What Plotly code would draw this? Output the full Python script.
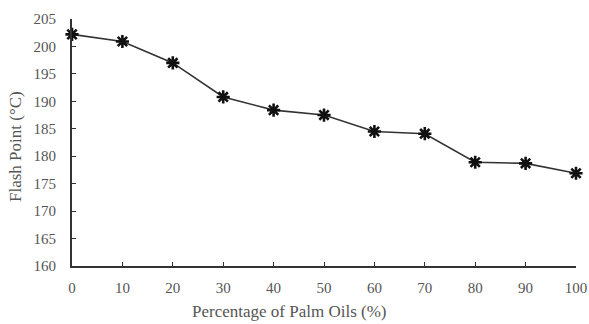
import plotly.graph_objects as go

palm_oil_pct = [0, 10, 20, 30, 40, 50, 60, 70, 80, 90, 100]
flash_point = [202.2, 200.9, 197.0, 190.8, 188.4, 187.5, 184.5, 184.1, 178.9, 178.7, 176.9]
x_ticks = [0, 10, 20, 30, 40, 50, 60, 70, 80, 90, 100]
y_ticks = [160, 165, 170, 175, 180, 185, 190, 195, 200, 205]
x_title = "Percentage of Palm Oils (%)"
y_title = "Flash Point (°C)"

font_family = "Liberation Serif, Times New Roman, serif"
text_color = "#555555"

fig = go.Figure()
fig.add_trace(go.Scatter(
    x=palm_oil_pct, y=flash_point, mode="lines+markers",
    line=dict(color="#333333", width=1.6),
    marker=dict(symbol="asterisk-open", size=11, color="#111111",
                line=dict(color="#111111", width=2.6)),
    cliponaxis=False, showlegend=False,
))

fig.update_layout(
    width=589, height=324,
    margin=dict(l=72, r=13, t=19, b=58),
    paper_bgcolor="white", plot_bgcolor="white",
    font=dict(family=font_family, size=15, color=text_color),
    xaxis=dict(
        range=[0, 100], tickvals=x_ticks, ticks="inside", ticklen=4,
        tickcolor="#333333", showline=True, linecolor="#333333", linewidth=1.8,
        showgrid=False, zeroline=False, ticklabelstandoff=7, automargin=False,
    ),
    yaxis=dict(
        range=[160, 205], tickvals=y_ticks, ticks="inside", ticklen=4,
        tickcolor="#333333", showline=True, linecolor="#333333", linewidth=1.8,
        showgrid=False, zeroline=False, ticklabelstandoff=11, automargin=False,
    ),
    annotations=[
        dict(text=x_title, xref="paper", yref="paper", x=0.432, y=-0.186,
             xanchor="center", yanchor="middle", showarrow=False,
             font=dict(family=font_family, size=17, color=text_color)),
        dict(text=y_title, xref="paper", yref="paper", x=-0.111, y=0.482,
             xanchor="center", yanchor="middle", showarrow=False, textangle=-90,
             font=dict(family=font_family, size=17, color=text_color)),
    ],
)

fig.write_html("out.html")
